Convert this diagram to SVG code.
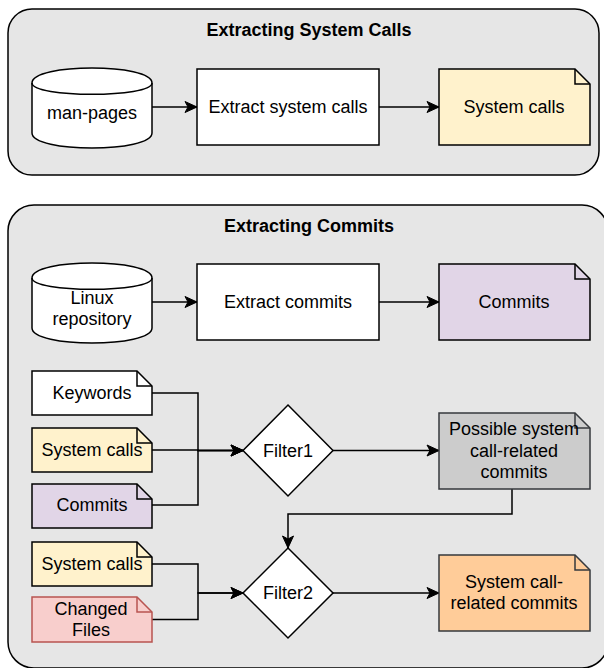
<svg xmlns="http://www.w3.org/2000/svg" width="604" height="668" viewBox="0 0 604 668">
<defs>
<style>
.cont{fill:#e6e6e6;stroke:#000;stroke-width:1.5}
.box{fill:#fff;stroke:#000;stroke-width:1.5}
.edge{fill:none;stroke:#000;stroke-width:1.5}
.t{font-family:"Liberation Sans",Arial,Helvetica,sans-serif;font-size:18px;fill:#000;text-anchor:middle}
.title{font-weight:bold}
</style>
<marker id="arr" markerUnits="userSpaceOnUse" markerWidth="16" markerHeight="14" viewBox="-13 -7 14 14" refX="0" refY="0" orient="auto">
<path d="M0,0 L-12,-5.5 L-9,0 L-12,5.5 Z" fill="#000" stroke="#000" stroke-width="1"/>
</marker>
</defs>

<g id="container-syscalls">
<rect class="cont" x="8" y="9" width="591" height="166" rx="24" ry="24"/>
<text class="t title" x="309" y="36">Extracting System Calls</text>
</g>
<g id="container-commits">
<rect class="cont" x="8" y="205" width="600" height="463" rx="26" ry="26"/>
<text class="t title" x="309" y="232">Extracting Commits</text>
</g>

<g id="edges">
<path class="edge" d="M152,107 L197,107" marker-end="url(#arr)"/>
<path class="edge" d="M379,107 L439,107" marker-end="url(#arr)"/>
<path class="edge" d="M152,302 L197,302" marker-end="url(#arr)"/>
<path class="edge" d="M379,302 L439,302" marker-end="url(#arr)"/>
<path class="edge" d="M152,393 L198,393 L198,450.5 L243,450.5" marker-end="url(#arr)"/>
<path class="edge" d="M152,450 L198,450 L198,450.5 L243,450.5" marker-end="url(#arr)"/>
<path class="edge" d="M152,505 L198,505 L198,450.5 L243,450.5" marker-end="url(#arr)"/>
<path class="edge" d="M333,450.5 L439,450.5" marker-end="url(#arr)"/>
<path class="edge" d="M512,489 L512,514 L288,514 L288,548" marker-end="url(#arr)"/>
<path class="edge" d="M152,564 L198,564 L198,593 L243,593" marker-end="url(#arr)"/>
<path class="edge" d="M152,619.5 L198,619.5 L198,593 L243,593" marker-end="url(#arr)"/>
<path class="edge" d="M333,593 L439,593" marker-end="url(#arr)"/>
</g>

<g id="man-pages">
<path class="box" d="M32,83 C32,63 152,63 152,83 L152,133 C152,153 32,153 32,133 Z"/>
<path class="edge" d="M32,83 C32,98 152,98 152,83"/>
<text class="t" x="92" y="119">man-pages</text>
</g>
<g id="extract-syscalls">
<rect class="box" x="197" y="69" width="182" height="76"/>
<text class="t" x="288" y="113">Extract system calls</text>
</g>
<g id="syscalls-out">
<path d="M439,69 L575,69 L590,84 L590,145 L439,145 Z" fill="#fff2cc" stroke="#000" stroke-width="1.5"/>
<path class="edge" d="M575,69 L575,84 L590,84"/>
<text class="t" x="514" y="113">System calls</text>
</g>

<g id="linux-repo">
<path class="box" d="M32,278 C32,258 152,258 152,278 L152,328 C152,348 32,348 32,328 Z"/>
<path class="edge" d="M32,278 C32,293 152,293 152,278"/>
<text class="t" x="92" y="304">Linux</text>
<text class="t" x="92" y="325">repository</text>
</g>
<g id="extract-commits">
<rect class="box" x="197" y="264" width="182" height="76"/>
<text class="t" x="288" y="308">Extract commits</text>
</g>
<g id="commits-out">
<path d="M439,264 L575,264 L590,279 L590,340 L439,340 Z" fill="#e1d5e7" stroke="#000" stroke-width="1.5"/>
<path class="edge" d="M575,264 L575,279 L590,279"/>
<text class="t" x="514" y="308">Commits</text>
</g>

<g id="keywords">
<path d="M32,371 L137,371 L152,386 L152,415 L32,415 Z" fill="#fff" stroke="#000" stroke-width="1.5"/>
<path class="edge" d="M137,371 L137,386 L152,386"/>
<text class="t" x="92" y="399">Keywords</text>
</g>
<g id="syscalls-in1">
<path d="M32,428 L137,428 L152,443 L152,472 L32,472 Z" fill="#fff2cc" stroke="#000" stroke-width="1.5"/>
<path class="edge" d="M137,428 L137,443 L152,443"/>
<text class="t" x="92" y="456">System calls</text>
</g>
<g id="commits-in">
<path d="M32,484 L137,484 L152,499 L152,528 L32,528 Z" fill="#e1d5e7" stroke="#000" stroke-width="1.5"/>
<path class="edge" d="M137,484 L137,499 L152,499"/>
<text class="t" x="92" y="511">Commits</text>
</g>

<g id="filter1">
<path class="box" d="M288,405 L333,450.5 L288,496 L243,450.5 Z"/>
<text class="t" x="288" y="457">Filter1</text>
</g>
<g id="possible">
<path d="M439,413 L575,413 L590,428 L590,489 L439,489 Z" fill="#cccccc" stroke="#36393d" stroke-width="1.5"/>
<path d="M575,413 L575,428 L590,428" fill="none" stroke="#36393d" stroke-width="1.5"/>
<text class="t" x="514" y="435">Possible system</text>
<text class="t" x="514" y="457">call-related</text>
<text class="t" x="514" y="478">commits</text>
</g>

<g id="syscalls-in2">
<path d="M32,542 L137,542 L152,557 L152,586 L32,586 Z" fill="#fff2cc" stroke="#000" stroke-width="1.5"/>
<path class="edge" d="M137,542 L137,557 L152,557"/>
<text class="t" x="92" y="570">System calls</text>
</g>
<g id="changed-files">
<path d="M32,597 L137,597 L152,612 L152,642 L32,642 Z" fill="#f8cecc" stroke="#b85450" stroke-width="1.5"/>
<path d="M137,597 L137,612 L152,612" fill="none" stroke="#b85450" stroke-width="1.5"/>
<text class="t" x="91" y="615">Changed</text>
<text class="t" x="91" y="636">Files</text>
</g>
<g id="filter2">
<path class="box" d="M288,548 L333,593 L288,638 L243,593 Z"/>
<text class="t" x="288" y="599">Filter2</text>
</g>
<g id="syscall-related">
<path d="M439,555 L575,555 L590,570 L590,631 L439,631 Z" fill="#ffcc99" stroke="#36393d" stroke-width="1.5"/>
<path d="M575,555 L575,570 L590,570" fill="none" stroke="#36393d" stroke-width="1.5"/>
<text class="t" x="514" y="588">System call-</text>
<text class="t" x="514" y="609">related commits</text>
</g>
</svg>
